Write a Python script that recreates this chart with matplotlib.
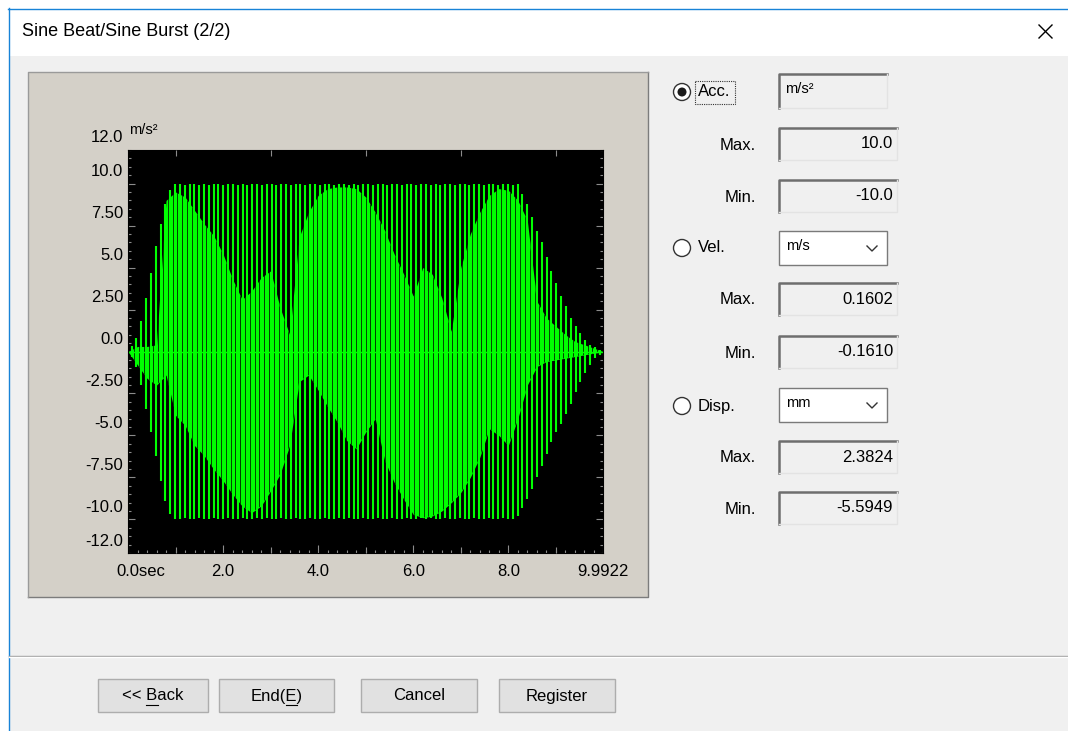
import numpy as np
import matplotlib
matplotlib.use("Agg")
import matplotlib.pyplot as plt
from matplotlib.patches import Rectangle, Circle
from matplotlib.ticker import MultipleLocator, FixedLocator

plt.rcParams['font.family'] = ['Liberation Sans', 'DejaVu Sans']

# --- values ---
# one vertical stroke per carrier cycle (start time / period in sec)
carrier_t0 = 0.076
carrier_period = 0.1015
peak_top = [
    0.3, 0.8, 1.8, 3.2, 4.7, 6.3, 7.6, 8.8, 9.6, 10.0,
    10.0, 9.9, 10.0, 10.0, 9.9, 10.0, 9.9, 10.0, 10.0, 9.9,
    10.0, 10.0, 9.9, 10.0, 9.9, 10.0, 10.0, 9.9, 10.0, 10.0,
    9.9, 10.0, 10.0, 9.9, 10.0, 10.0, 9.9, 10.0, 10.0, 9.9,
    10.0, 10.0, 9.9, 10.0, 10.0, 9.9, 10.0, 9.9, 10.0, 10.0,
    9.9, 10.0, 10.0, 9.9, 10.0, 10.0, 9.9, 10.0, 10.0, 9.9,
    10.0, 10.0, 9.9, 10.0, 9.9, 10.0, 10.0, 9.9, 10.0, 10.0,
    9.9, 10.0, 10.0, 9.9, 10.0, 10.0, 9.9, 10.0, 10.0, 9.9,
    10.0, 9.4, 8.8, 8.0, 7.2, 6.5, 5.6, 4.8, 4.1, 3.3,
    2.7, 2.0, 1.5, 1.1, 0.7, 0.4, 0.25, 0.1,
]
peak_bottom = [
    -0.3, -0.9, -2.0, -3.4, -4.8, -6.2, -7.7, -8.9, -9.7, -10.0,
    -10.0, -9.9, -10.0, -10.0, -9.9, -10.0, -10.0, -9.9, -10.0, -10.0,
    -9.9, -10.0, -10.0, -9.9, -10.0, -10.0, -9.9, -10.0, -9.9, -10.0,
    -10.0, -9.9, -10.0, -10.0, -9.9, -10.0, -10.0, -9.9, -10.0, -10.0,
    -9.9, -10.0, -10.0, -9.9, -10.0, -9.9, -10.0, -10.0, -9.9, -10.0,
    -10.0, -9.9, -10.0, -10.0, -9.9, -10.0, -10.0, -9.9, -10.0, -10.0,
    -9.9, -10.0, -9.9, -10.0, -10.0, -9.9, -10.0, -10.0, -9.9, -10.0,
    -10.0, -9.9, -10.0, -10.0, -9.9, -10.0, -10.0, -9.9, -10.0, -10.0,
    -9.8, -9.3, -8.8, -8.2, -7.5, -6.8, -6.1, -5.4, -4.8, -4.3,
    -3.7, -3.1, -2.4, -1.8, -1.3, -0.8, -0.4, -0.2,
]

# solid (beat) region between the strokes
env_t = [0.0, 0.2, 0.4, 0.6, 0.8, 1.0, 1.2, 1.4, 1.6, 1.8,
         2.0, 2.2, 2.4, 2.6, 2.8, 3.0, 3.2, 3.4, 3.6, 3.8,
         4.0, 4.2, 4.4, 4.6, 4.8, 5.0, 5.2, 5.4, 5.6, 5.8,
         6.0, 6.2, 6.4, 6.6, 6.8, 7.0, 7.2, 7.4, 7.6, 7.8,
         8.0, 8.2, 8.4, 8.6, 8.8, 9.0, 9.2, 9.4, 9.6, 9.8, 9.99]
env_upper = [0.0, 0.3, 0.3, 0.4, 9.0, 9.5, 9.2, 8.4, 7.6, 6.9,
             5.8, 4.3, 3.1, 3.6, 4.4, 4.8, 2.6, 1.0, 6.8, 8.3,
             9.3, 9.7, 9.8, 9.8, 9.7, 9.2, 8.3, 7.2, 5.8, 4.6,
             3.3, 5.0, 4.6, 3.2, 1.2, 5.0, 7.0, 8.3, 9.3, 9.7,
             9.6, 9.0, 7.8, 3.0, 2.0, 1.5, 1.0, 0.6, 0.4, 0.2, 0.0]
env_lower = [0.0, -0.8, -1.6, -2.0, -1.4, -3.8, -4.4, -5.6, -6.2, -7.0,
             -7.7, -8.5, -9.2, -9.6, -9.2, -8.3, -7.3, -5.6, -1.8, -1.4,
             -2.3, -3.3, -4.2, -5.3, -5.8, -4.8, -4.0, -6.5, -7.8, -8.8,
             -9.7, -9.9, -9.8, -9.5, -9.0, -8.4, -7.5, -6.3, -4.6, -5.0,
             -5.6, -4.0, -2.0, -0.9, -0.6, -0.5, -0.4, -0.3, -0.2, -0.1, 0.0]

t_end = 9.9922
y_ticks = [-12, -10, -7.5, -5, -2.5, 0, 2.5, 5, 7.5, 10, 12]
y_labels = ["-12.0", "-10.0", "-7.50", "-5.0", "-2.50", "0.0",
            "2.50", "5.0", "7.50", "10.0", "12.0"]
x_ticks = [0, 2, 4, 6, 8, t_end]
x_labels = ["0.0sec", "2.0", "4.0", "6.0", "8.0", "9.9922"]

acc_unit, vel_unit, disp_unit = "m/s²", "m/s", "mm"
acc_max, acc_min = "10.0", "-10.0"
vel_max, vel_min = "0.1602", "-0.1610"
disp_max, disp_min = "2.3824", "-5.5949"
buttons = ["<< Back", "End(E)", "Cancel", "Register"]

W, H = 1068, 731
GREEN = "#00ff00"
FS = 12

fig = plt.figure(figsize=(W / 100, H / 100), dpi=100)
fig.patch.set_facecolor("white")

# background layer in screen pixels
bg = fig.add_axes([0, 0, 1, 1])
bg.set_xlim(0, W)
bg.set_ylim(H, 0)
bg.axis("off")

bg.add_patch(Rectangle((9, 56), W - 9, H - 56, fc="#f0f0f0", ec="none"))
bg.plot([8.5, 8.5], [8, H], color="#1883d7", lw=1)
bg.plot([8, W], [8.5, 8.5], color="#1883d7", lw=1)
bg.text(22, 32, "Sine Beat/Sine Burst (2/2)", fontsize=13, va="center", ha="left")
bg.plot([1039, 1052], [25, 38], color="black", lw=1)
bg.plot([1039, 1052], [38, 25], color="black", lw=1)

# beige panel around the graph
bg.add_patch(Rectangle((28, 72), 620, 525, fc="#d4d0c8", ec="none"))
bg.plot([28, 648, 648], [597, 597, 72], color="#7c7c7c", lw=1)
bg.plot([28, 28, 648], [597, 72, 72], color="#9a9a9a", lw=1)
bg.text(129, 130, acc_unit, fontsize=10.5, va="center", ha="left")

# separator + buttons
bg.plot([9, W], [655.5, 655.5], color="#a0a0a0", lw=1)
bg.plot([9, W], [656.5, 656.5], color="white", lw=1)

renderer = fig.canvas.get_renderer()


def underline(txt, s, idx):
    bb = txt.get_window_extent(renderer)
    fp = txt.get_fontproperties()
    w_to, _, _ = renderer.get_text_width_height_descent(s[:idx + 1], fp, ismath=False)
    w_ch, _, _ = renderer.get_text_width_height_descent(s[idx], fp, ismath=False)
    x1 = bb.x0 + w_to
    x0 = x1 - w_ch
    y = H - bb.y0 + 1
    bg.plot([x0, x1], [y, y], color="black", lw=0.8)


btn_x = [98, 219, 361, 499]
btn_w = [110, 115, 116, 116]
for lab, x0, w in zip(buttons, btn_x, btn_w):
    bg.add_patch(Rectangle((x0, 679), w, 33, fc="#e1e1e1", ec="#adadad", lw=1))
    t = bg.text(x0 + w / 2, 696, lab, fontsize=FS, ha="center", va="center")
    if lab.startswith("<<"):
        underline(t, lab, 3)
    elif lab.startswith("End"):
        underline(t, lab, 4)


# right side controls
def field(x0, y0, x1, y1, txt, align="right"):
    bg.add_patch(Rectangle((x0, y0), x1 - x0, y1 - y0, fc="#f0f0f0", ec="none"))
    bg.plot([x0, x0, x1], [y1, y0, y0], color="#6e6e6e", lw=1.8)
    bg.plot([x0, x1, x1], [y1, y1, y0], color="#e3e3e3", lw=1)
    if align == "right":
        bg.text(x1 - 4, (y0 + y1) / 2, txt, fontsize=FS, ha="right", va="center")
    else:
        bg.text(x0 + 6, (y0 + y1) / 2 - 2, txt, fontsize=10.5, ha="left", va="center")


def dropdown(x0, y0, x1, y1, txt):
    bg.add_patch(Rectangle((x0, y0), x1 - x0, y1 - y0, fc="white", ec="#7a7a7a", lw=1))
    yc = (y0 + y1) / 2
    bg.text(x0 + 7, yc - 2, txt, fontsize=10.5, ha="left", va="center")
    bg.plot([x1 - 20, x1 - 15, x1 - 10], [yc - 2, yc + 3, yc - 2], color="#333333", lw=1)


def radio(x, y, label, checked=False):
    bg.add_patch(Circle((x, y), 8.5, fc="white", ec="#333333", lw=1))
    if checked:
        bg.add_patch(Circle((x, y), 4.5, fc="#1a1a1a", ec="none"))
    bg.text(x + 16, y, label, fontsize=FS, ha="left", va="center")


radio(682, 92, "Acc.", checked=True)
bg.add_patch(Rectangle((695, 81), 40, 23, fc="none", ec="#333333", lw=0.8, ls=(0, (1, 1))))
field(779, 74, 887, 108, acc_unit, align="left")
for y0, lab, val in [(128, "Max.", acc_max), (180, "Min.", acc_min),
                     (283, "Max.", vel_max), (336, "Min.", vel_min),
                     (441, "Max.", disp_max), (492, "Min.", disp_min)]:
    bg.text(756, y0 + 17, lab, fontsize=FS, ha="right", va="center")
    field(779, y0, 897, y0 + 32, val)

radio(682, 248, "Vel.")
dropdown(779, 231, 887, 265, vel_unit)
radio(682, 406, "Disp.")
dropdown(779, 388, 887, 422, disp_unit)

# --- the graph ---
ax = fig.add_axes([128 / W, 1 - 553 / H, 475 / W, 403 / H])
ax.set_facecolor("black")
ax.set_xlim(0, t_end)
ax.set_ylim(-12, 12)
for s in ax.spines.values():
    s.set_color("black")

t_lines = carrier_t0 + carrier_period * np.arange(len(peak_top))
beat = ax.fill_between(env_t, env_lower, env_upper, color=GREEN, lw=0)
# thin dark seams between the cycles inside the solid region
seams = ax.vlines(t_lines + carrier_period / 2, -12, 12, color="black", lw=0.7, alpha=0.75)
seams.set_clip_path(beat.get_paths()[0], ax.transData)
ax.vlines(t_lines, peak_bottom, peak_top, color=GREEN, lw=1.5)
ax.axhline(0, color=GREEN, lw=1)

ax.xaxis.set_major_locator(FixedLocator(x_ticks))
ax.xaxis.set_minor_locator(MultipleLocator(0.2))
ax.yaxis.set_major_locator(MultipleLocator(2.5))
ax.yaxis.set_minor_locator(MultipleLocator(0.5))
ax.tick_params(which="both", direction="in", color="#8c8c8c", width=0.8,
               top=True, right=True, labelbottom=False, labelleft=False)
ax.tick_params(which="major", length=6)
ax.tick_params(which="minor", length=2.5)
ax.tick_params(axis="y", which="major", length=5)

# medium ticks at odd seconds
ax2 = ax.twiny()
ax2.set_xlim(ax.get_xlim())
ax2.patch.set_visible(False)
for s in ax2.spines.values():
    s.set_visible(False)
ax2.xaxis.set_major_locator(FixedLocator([1, 3, 5, 7, 9]))
ax2.tick_params(direction="in", color="#8c8c8c", width=0.8, length=4.5,
                top=True, bottom=True, labeltop=False, labelbottom=False)

for v, lab in zip(y_ticks, y_labels):
    ax.annotate(lab, xy=(0, v), xycoords=("axes fraction", "data"),
                xytext=(-5, 12), textcoords="offset pixels",
                ha="right", va="center", fontsize=FS, annotation_clip=False)
for v, lab in zip(x_ticks, x_labels):
    if lab.endswith("sec"):
        ax.annotate(lab, xy=(v, 0), xycoords=("data", "axes fraction"),
                    xytext=(-12, -18), textcoords="offset pixels",
                    ha="left", va="center", fontsize=FS, annotation_clip=False)
    else:
        ax.annotate(lab, xy=(v, 0), xycoords=("data", "axes fraction"),
                    xytext=(0, -18), textcoords="offset pixels",
                    ha="center", va="center", fontsize=FS, annotation_clip=False)

fig.savefig("out.png", dpi=100)
